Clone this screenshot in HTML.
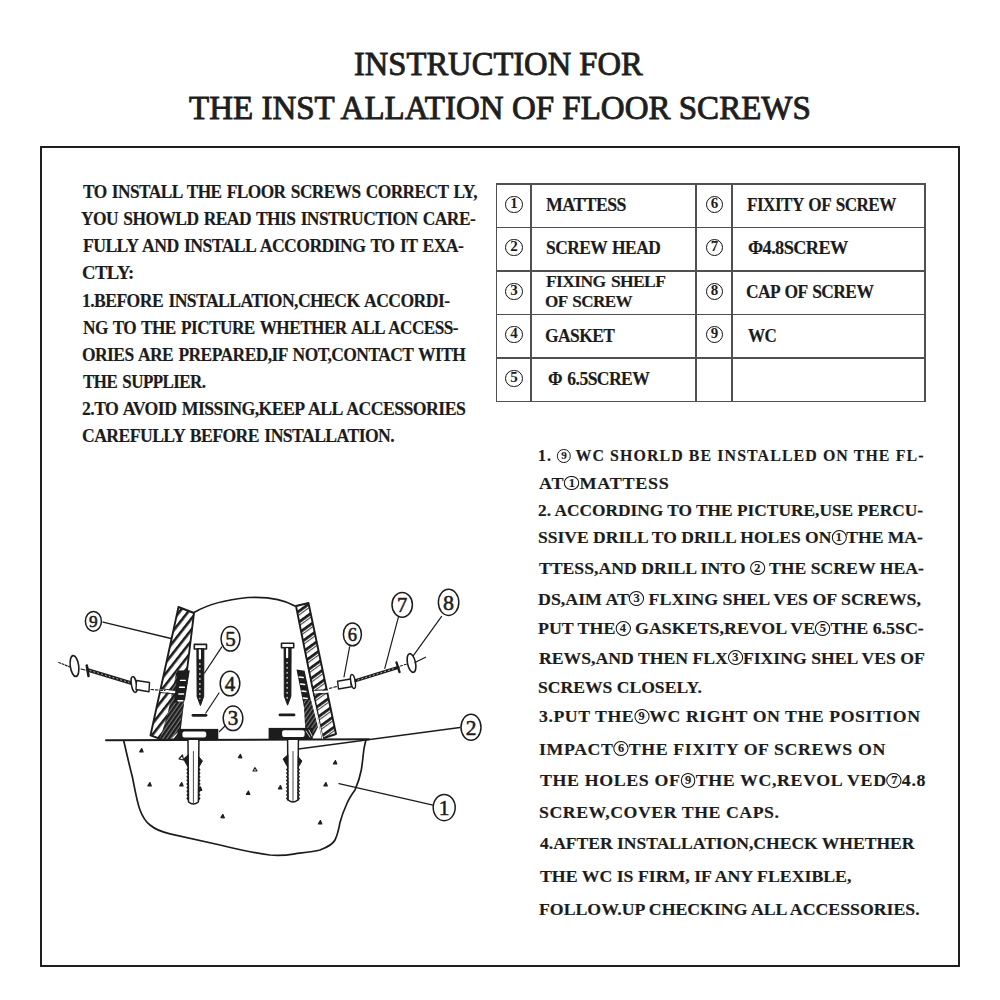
<!DOCTYPE html>
<html><head><meta charset="utf-8"><style>
html,body{margin:0;padding:0;background:#fff;}
body{width:1000px;height:1000px;position:relative;overflow:hidden;font-family:"Liberation Serif",serif;color:#1c1c1c;}
.ln{position:absolute;white-space:nowrap;line-height:1;transform-origin:0 0;}
.bd{-webkit-text-stroke:0.15px #1c1c1c;}
.tt{color:#1e1e1e;-webkit-text-stroke:0.9px #1e1e1e;}
.cd{display:inline-block;box-sizing:border-box;border:1.3px solid #111;border-radius:50%;text-align:center;font-weight:bold;letter-spacing:0;}
.cd.abs{position:absolute;}
.frame{position:absolute;left:40px;top:146px;width:916px;height:817px;border:2.2px solid #1e1e1e;}
.vl{position:absolute;width:1.5px;background:#505050;}
.hl{position:absolute;height:1.5px;background:#505050;}
svg{position:absolute;left:0;top:0;}
</style></head><body>
<div class="frame"></div>
<div class="vl" style="left:495.75px;top:183.2px;height:219.1px"></div>
<div class="vl" style="left:530.45px;top:183.2px;height:219.1px"></div>
<div class="vl" style="left:695.25px;top:183.2px;height:219.1px"></div>
<div class="vl" style="left:731.45px;top:183.2px;height:219.1px"></div>
<div class="vl" style="left:924.05px;top:183.2px;height:219.1px"></div>
<div class="hl" style="left:495.75px;top:183.25px;width:429.9px"></div>
<div class="hl" style="left:495.75px;top:226.65px;width:429.9px"></div>
<div class="hl" style="left:495.75px;top:270.25px;width:429.9px"></div>
<div class="hl" style="left:495.75px;top:313.75px;width:429.9px"></div>
<div class="hl" style="left:495.75px;top:357.25px;width:429.9px"></div>
<div class="hl" style="left:495.75px;top:400.75px;width:429.9px"></div>
<span class="cd abs" style="left:505.4px;top:195.6px;width:17.2px;height:17.2px;font-size:15px;line-height:13.8px;border-width:1.7px">1</span>
<span class="cd abs" style="left:705.8px;top:195.6px;width:17.2px;height:17.2px;font-size:15px;line-height:13.8px;border-width:1.7px">6</span>
<span class="cd abs" style="left:505.4px;top:239.1px;width:17.2px;height:17.2px;font-size:15px;line-height:13.8px;border-width:1.7px">2</span>
<span class="cd abs" style="left:705.8px;top:239.1px;width:17.2px;height:17.2px;font-size:15px;line-height:13.8px;border-width:1.7px">7</span>
<span class="cd abs" style="left:505.4px;top:282.6px;width:17.2px;height:17.2px;font-size:15px;line-height:13.8px;border-width:1.7px">3</span>
<span class="cd abs" style="left:705.8px;top:282.6px;width:17.2px;height:17.2px;font-size:15px;line-height:13.8px;border-width:1.7px">8</span>
<span class="cd abs" style="left:505.4px;top:326.1px;width:17.2px;height:17.2px;font-size:15px;line-height:13.8px;border-width:1.7px">4</span>
<span class="cd abs" style="left:705.8px;top:326.1px;width:17.2px;height:17.2px;font-size:15px;line-height:13.8px;border-width:1.7px">9</span>
<span class="cd abs" style="left:505.4px;top:369.6px;width:17.2px;height:17.2px;font-size:15px;line-height:13.8px;border-width:1.7px">5</span>
<div class="ln tt" id="t1" style="left:354.0px;top:47.93px;font-size:32.8px;font-weight:normal;letter-spacing:0px;word-spacing:0px;transform:scaleX(0.9933)">INSTRUCTION FOR</div>
<div class="ln tt" id="t2" style="left:189.0px;top:92.23px;font-size:32.8px;font-weight:normal;letter-spacing:0px;word-spacing:0px;transform:scaleX(1.0061)">THE INST ALLATION OF FLOOR SCREWS</div>
<div class="ln bd" id="l0" style="left:83.0px;top:183.01px;font-size:18.5px;font-weight:bold;letter-spacing:-0.6px;word-spacing:1.6px;transform:scaleX(0.9359)">TO INSTALL THE FLOOR SCREWS CORRECT LY,</div>
<div class="ln bd" id="l1" style="left:81.0px;top:210.14px;font-size:18.5px;font-weight:bold;letter-spacing:-0.6px;word-spacing:1.6px;transform:scaleX(0.9427)">YOU SHOWLD READ THIS INSTRUCTION CARE-</div>
<div class="ln bd" id="l2" style="left:83.0px;top:237.27px;font-size:18.5px;font-weight:bold;letter-spacing:-0.6px;word-spacing:1.6px;transform:scaleX(0.9548)">FULLY AND INSTALL ACCORDING TO IT EXA-</div>
<div class="ln bd" id="l3" style="left:82.0px;top:264.40px;font-size:18.5px;font-weight:bold;letter-spacing:-0.6px;word-spacing:1.6px;transform:scaleX(1.0097)">CTLY:</div>
<div class="ln bd" id="l4" style="left:82.0px;top:291.53px;font-size:18.5px;font-weight:bold;letter-spacing:-0.6px;word-spacing:1.6px;transform:scaleX(0.9522)">1.BEFORE INSTALLATION,CHECK ACCORDI-</div>
<div class="ln bd" id="l5" style="left:83.0px;top:318.66px;font-size:18.5px;font-weight:bold;letter-spacing:-0.6px;word-spacing:1.6px;transform:scaleX(0.9319)">NG TO THE PICTURE WHETHER ALL ACCESS-</div>
<div class="ln bd" id="l6" style="left:82.0px;top:345.79px;font-size:18.5px;font-weight:bold;letter-spacing:-0.6px;word-spacing:1.6px;transform:scaleX(0.9449)">ORIES ARE PREPARED,IF NOT,CONTACT WITH</div>
<div class="ln bd" id="l7" style="left:83.0px;top:372.92px;font-size:18.5px;font-weight:bold;letter-spacing:-0.6px;word-spacing:1.6px;transform:scaleX(0.9167)">THE SUPPLIER.</div>
<div class="ln bd" id="l8" style="left:82.0px;top:400.05px;font-size:18.5px;font-weight:bold;letter-spacing:-0.6px;word-spacing:1.6px;transform:scaleX(0.9596)">2.TO AVOID MISSING,KEEP ALL ACCESSORIES</div>
<div class="ln bd" id="l9" style="left:82.0px;top:427.18px;font-size:18.5px;font-weight:bold;letter-spacing:-0.6px;word-spacing:1.6px;transform:scaleX(0.9545)">CAREFULLY BEFORE INSTALLATION.</div>
<div class="ln bd" id="tb0" style="left:546.0px;top:195.71px;font-size:18.5px;font-weight:bold;letter-spacing:-0.6px;word-spacing:1.6px;transform:scaleX(0.9646)">MATTESS</div>
<div class="ln bd" id="tb1" style="left:546.0px;top:239.11px;font-size:18.5px;font-weight:bold;letter-spacing:-0.6px;word-spacing:1.6px;transform:scaleX(0.9424)">SCREW HEAD</div>
<div class="ln bd" id="tb2" style="left:546.0px;top:273.25px;font-size:17.5px;font-weight:bold;letter-spacing:-0.6px;word-spacing:1.6px;transform:scaleX(0.9990)">FIXING SHELF</div>
<div class="ln bd" id="tb3" style="left:545.0px;top:292.75px;font-size:17.5px;font-weight:bold;letter-spacing:-0.6px;word-spacing:1.6px;transform:scaleX(0.9776)">OF SCREW</div>
<div class="ln bd" id="tb4" style="left:545.0px;top:326.81px;font-size:18.5px;font-weight:bold;letter-spacing:-0.6px;word-spacing:1.6px;transform:scaleX(0.9432)">GASKET</div>
<div class="ln bd" id="tb5" style="left:548.0px;top:370.11px;font-size:18.5px;font-weight:bold;letter-spacing:-0.6px;word-spacing:1.6px;transform:scaleX(0.9509)">&Phi; 6.5SCREW</div>
<div class="ln bd" id="tb6" style="left:747.0px;top:196.01px;font-size:18.5px;font-weight:bold;letter-spacing:-0.6px;word-spacing:1.6px;transform:scaleX(0.9280)">FIXITY OF SCREW</div>
<div class="ln bd" id="tb7" style="left:748.0px;top:239.31px;font-size:18.5px;font-weight:bold;letter-spacing:-0.6px;word-spacing:1.6px;transform:scaleX(0.9889)">&Phi;4.8SCREW</div>
<div class="ln bd" id="tb8" style="left:746.0px;top:282.91px;font-size:18.5px;font-weight:bold;letter-spacing:-0.6px;word-spacing:1.6px;transform:scaleX(0.9422)">CAP OF SCREW</div>
<div class="ln bd" id="tb9" style="left:748.0px;top:326.51px;font-size:18.5px;font-weight:bold;letter-spacing:-0.6px;word-spacing:1.6px;transform:scaleX(0.9219)">WC</div>
<div class="ln bd" id="r0" style="left:538.0px;top:448.40px;font-size:16px;font-weight:bold;letter-spacing:1.1px;word-spacing:0px;transform:scaleX(0.9935)">1. <span class="cd" style="width:13.6px;height:13.6px;font-size:11.2px;line-height:10.90px;border-width:1.35px;vertical-align:2.3px">9</span> WC SHORLD BE INSTALLED ON THE FL-</div>
<div class="ln bd" id="r1" style="left:539.0px;top:474.85px;font-size:17.5px;font-weight:bold;letter-spacing:0.7px;word-spacing:0px;transform:scaleX(1.0323)">AT<span class="cd" style="width:14.9px;height:14.9px;font-size:12.2px;line-height:12.20px;border-width:1.35px;vertical-align:2.3px">1</span>MATTESS</div>
<div class="ln bd" id="r2" style="left:538.0px;top:502.35px;font-size:17.5px;font-weight:bold;letter-spacing:0px;word-spacing:0px;transform:scaleX(0.9910)">2. ACCORDING TO THE PICTURE,USE PERCU-</div>
<div class="ln bd" id="r3" style="left:538.0px;top:529.35px;font-size:17.5px;font-weight:bold;letter-spacing:0px;word-spacing:0px;transform:scaleX(1.0028)">SSIVE DRILL TO DRILL HOLES ON<span class="cd" style="width:14.9px;height:14.9px;font-size:12.2px;line-height:12.20px;border-width:1.35px;vertical-align:2.3px">1</span>THE MA-</div>
<div class="ln bd" id="r4" style="left:539.0px;top:559.85px;font-size:17.5px;font-weight:bold;letter-spacing:0px;word-spacing:0px;transform:scaleX(1.0100)">TTESS,AND DRILL INTO <span class="cd" style="width:14.9px;height:14.9px;font-size:12.2px;line-height:12.20px;border-width:1.35px;vertical-align:2.3px">2</span> THE SCREW HEA-</div>
<div class="ln bd" id="r5" style="left:538.0px;top:590.65px;font-size:17.5px;font-weight:bold;letter-spacing:0px;word-spacing:0px;transform:scaleX(1.0201)">DS,AIM AT<span class="cd" style="width:14.9px;height:14.9px;font-size:12.2px;line-height:12.20px;border-width:1.35px;vertical-align:2.3px">3</span> FLXING SHEL VES OF SCREWS,</div>
<div class="ln bd" id="r6" style="left:538.0px;top:620.15px;font-size:17.5px;font-weight:bold;letter-spacing:0px;word-spacing:0px;transform:scaleX(1.0217)">PUT THE<span class="cd" style="width:14.9px;height:14.9px;font-size:12.2px;line-height:12.20px;border-width:1.35px;vertical-align:2.3px">4</span> GASKETS,REVOL VE<span class="cd" style="width:14.9px;height:14.9px;font-size:12.2px;line-height:12.20px;border-width:1.35px;vertical-align:2.3px">5</span>THE 6.5SC-</div>
<div class="ln bd" id="r7" style="left:539.0px;top:649.65px;font-size:17.5px;font-weight:bold;letter-spacing:0px;word-spacing:0px;transform:scaleX(1.0106)">REWS,AND THEN FLX<span class="cd" style="width:14.9px;height:14.9px;font-size:12.2px;line-height:12.20px;border-width:1.35px;vertical-align:2.3px">3</span>FIXING SHEL VES OF</div>
<div class="ln bd" id="r8" style="left:538.0px;top:679.15px;font-size:17.5px;font-weight:bold;letter-spacing:0px;word-spacing:0px;transform:scaleX(1.0057)">SCREWS CLOSELY.</div>
<div class="ln bd" id="r9" style="left:539.0px;top:708.35px;font-size:17.5px;font-weight:bold;letter-spacing:0.55px;word-spacing:0px;transform:scaleX(1.0148)">3.PUT THE<span class="cd" style="width:14.9px;height:14.9px;font-size:12.2px;line-height:12.20px;border-width:1.35px;vertical-align:2.3px">9</span>WC RIGHT ON THE POSITION</div>
<div class="ln bd" id="r10" style="left:539.0px;top:740.55px;font-size:17.5px;font-weight:bold;letter-spacing:0.6px;word-spacing:0px;transform:scaleX(1.0176)">IMPACT<span class="cd" style="width:14.9px;height:14.9px;font-size:12.2px;line-height:12.20px;border-width:1.35px;vertical-align:2.3px">6</span>THE FIXITY OF SCREWS ON</div>
<div class="ln bd" id="r11" style="left:540.0px;top:772.25px;font-size:17.5px;font-weight:bold;letter-spacing:0.6px;word-spacing:0px;transform:scaleX(1.0212)">THE HOLES OF<span class="cd" style="width:14.9px;height:14.9px;font-size:12.2px;line-height:12.20px;border-width:1.35px;vertical-align:2.3px">9</span>THE WC,REVOL VED<span class="cd" style="width:14.9px;height:14.9px;font-size:12.2px;line-height:12.20px;border-width:1.35px;vertical-align:2.3px">7</span>4.8</div>
<div class="ln bd" id="r12" style="left:539.0px;top:804.35px;font-size:17.5px;font-weight:bold;letter-spacing:0.55px;word-spacing:0px;transform:scaleX(1.0142)">SCREW,COVER THE CAPS.</div>
<div class="ln bd" id="r13" style="left:540.0px;top:834.75px;font-size:17.5px;font-weight:bold;letter-spacing:0px;word-spacing:0px;transform:scaleX(1.0027)">4.AFTER INSTALLATION,CHECK WHETHER</div>
<div class="ln bd" id="r14" style="left:540.0px;top:868.15px;font-size:17.5px;font-weight:bold;letter-spacing:0px;word-spacing:0px;transform:scaleX(1.0155)">THE WC IS FIRM, IF ANY FLEXIBLE,</div>
<div class="ln bd" id="r15" style="left:539.0px;top:901.35px;font-size:17.5px;font-weight:bold;letter-spacing:0px;word-spacing:0px;transform:scaleX(1.0143)">FOLLOW.UP CHECKING ALL ACCESSORIES.</div>
<svg width="1000" height="1000" viewBox="0 0 1000 1000">
<defs>
<pattern id="hatL" patternUnits="userSpaceOnUse" width="6.8" height="6.8" patternTransform="rotate(-52)">
<rect width="6.8" height="6.8" fill="#fff"/><rect x="0" y="0" width="6.8" height="2.6" fill="#1c1c1c"/></pattern>
<pattern id="hatR" patternUnits="userSpaceOnUse" width="8.8" height="8.8" patternTransform="rotate(-36)">
<rect width="8.8" height="8.8" fill="#fff"/><rect x="0" y="0" width="8.8" height="2.8" fill="#1c1c1c"/><rect x="0" y="4" width="8.8" height="1" fill="#333"/></pattern>
<pattern id="hatD" patternUnits="userSpaceOnUse" width="3.4" height="3.4" patternTransform="rotate(-55)">
<rect width="3.4" height="3.4" fill="#777"/><rect x="0" y="0" width="3.4" height="2.2" fill="#1c1c1c"/></pattern>
</defs>
<g fill="none" stroke="#1c1c1c" stroke-linecap="round" stroke-linejoin="round">
<path d="M123.8,741 C127,755 130,768 132.5,777.5 C135,790 137,802 140,810 C143,818 146,822 150,825 C156,830 162,832 170,833.8 L220,845 C240,850 255,853 270,855 C280,856 288,855 295,853.8 C305,852.5 314,851.5 320,850 C328,847 333,844 335,840 C338,834 339,828 340,822.5 C342,815 344,810 346.3,805 C349,798 352,794 355,790 C358,783 360,777 361.3,770 C362.5,763 363,756 363.8,750 C364.5,746 365,743 366,740" stroke-width="1.7"/>
<path d="M106,740.3 L369,739.3" stroke-width="2"/>
<path d="M298.5,749 L460,727.5" stroke-width="1.3"/>
<path d="M339,783.6 L433,805.2" stroke-width="1.3"/>
<path d="M194,612.5 C205,606 222,600 248,597.5 C268,596.5 284,599.5 295,606" stroke-width="1.7"/>
<polygon points="178.5,607 194,613 180,728 177,739.5 162,739.5 150.5,735.3" fill="url(#hatL)" stroke-width="1.9"/>
<polygon points="176.5,671 189.6,670.5 179,731 171,739 160,739 168,712" fill="url(#hatD)" stroke="none"/>
<polygon points="177.5,670.5 189.6,670.5 185,700 174,703" fill="#1c1c1c" stroke="none"/>
<path d="M180.5,680.4 l4.8,0" stroke="#fff" stroke-width="1.4"/>
<path d="M179.6,687.2 l4.8,0" stroke="#fff" stroke-width="1.4"/>
<path d="M178.8,694 l4.8,0" stroke="#fff" stroke-width="1.4"/>
<path d="M178.0,700.8 l4.8,0" stroke="#fff" stroke-width="1.4"/>
<polygon points="296,606 308.5,603 336,734 322.6,738.5" fill="url(#hatR)" stroke-width="1.9"/>
<polygon points="296.5,669.4 304.6,670.8 316.5,727 309,727 307.3,723.4" fill="#1c1c1c" stroke="none"/>
<polygon points="303.5,700 311,700 318,727 312.5,738 306,738 305,725" fill="url(#hatD)" stroke="none"/>
<path d="M299.2,677 l4,0.6" stroke="#fff" stroke-width="1.5"/>
<path d="M300.6,684 l4,0.6" stroke="#fff" stroke-width="1.5"/>
<path d="M301.9,691 l4,0.6" stroke="#fff" stroke-width="1.5"/>
<path d="M303.2,698 l4,0.6" stroke="#fff" stroke-width="1.5"/>
<path d="M306.5,669 L322.6,738.5" stroke="#fff" stroke-width="1"/>
<rect x="177.8" y="728.9" width="40.5" height="10.5" fill="#1c1c1c" stroke="none"/>
<rect x="182.4" y="731.4" width="23.8" height="6" rx="2" fill="#fff" stroke="none"/>
<rect x="268.6" y="727.9" width="44" height="11.5" fill="#1c1c1c" stroke="none"/>
<rect x="282.1" y="730.2" width="22.5" height="6.7" rx="2" fill="#fff" stroke="none"/>
<path d="M306,731 l4,6 M309,730 l3,6" stroke="#fff" stroke-width="0.8"/>
<path d="M161,690.5 L174,692" stroke="#fff" stroke-width="2.6"/>
<path d="M161,688.8 L174,690.2 M161,692.6 L174,694" stroke-width="0.9"/>
<path d="M315,692 L327,691.5" stroke="#fff" stroke-width="2.4"/>
<path d="M315,690.3 L327.5,689.8 M315,694.2 L327,693.7" stroke-width="1"/>
<rect x="194.3" y="644.4" width="12.2" height="4.6" fill="#fff" stroke-width="1.6"/>
<path d="M196.9,649.0 L197.1,696.6 L200.4,705.6 L203.7,696.6 L203.9,649.0 Z" fill="#1c1c1c" stroke-width="1"/>
<path d="M199.9,650.4 L199.9,658.4" stroke="#fff" stroke-width="2.2"/>
<path d="M199.9,663.4 L199.9,698.6" stroke="#fff" stroke-width="1.1" stroke-dasharray="1 4"/>
<rect x="281.5" y="643.2" width="12.2" height="4.6" fill="#fff" stroke-width="1.6"/>
<path d="M284.1,647.8 L284.3,696.2 L287.6,705.2 L290.9,696.2 L291.1,647.8 Z" fill="#1c1c1c" stroke-width="1"/>
<path d="M287.1,649.2 L287.1,657.2" stroke="#fff" stroke-width="2.2"/>
<path d="M287.1,662.2 L287.1,698.2" stroke="#fff" stroke-width="1.1" stroke-dasharray="1 4"/>
<path d="M193,715.3 L206,715.3" stroke-width="2.8"/>
<path d="M280,714.9 L294,714.9" stroke-width="2.8"/>
<path d="M188.0,740 L188.5,802.0 Q193.4,806.0 198.4,802.0 L198.9,740" fill="#fff" stroke-width="1.5"/>
<path d="M193.4,751.5 L193.4,802.5" stroke-width="0.8"/>
<path d="M188.4,768 l-1.4,1.6 l1.4,1.6 M198.5,768 l1.4,1.6 l-1.4,1.6 M188.4,771.6 l-1.4,1.6 l1.4,1.6 M198.5,771.6 l1.4,1.6 l-1.4,1.6 M188.4,775.2 l-1.4,1.6 l1.4,1.6 M198.5,775.2 l1.4,1.6 l-1.4,1.6 M188.4,778.8000000000001 l-1.4,1.6 l1.4,1.6 M198.5,778.8000000000001 l1.4,1.6 l-1.4,1.6 M188.4,782.4000000000001 l-1.4,1.6 l1.4,1.6 M198.5,782.4000000000001 l1.4,1.6 l-1.4,1.6 M188.4,786.0000000000001 l-1.4,1.6 l1.4,1.6 M198.5,786.0000000000001 l1.4,1.6 l-1.4,1.6 M188.4,789.6000000000001 l-1.4,1.6 l1.4,1.6 M198.5,789.6000000000001 l1.4,1.6 l-1.4,1.6 M188.4,793.2000000000002 l-1.4,1.6 l1.4,1.6 M198.5,793.2000000000002 l1.4,1.6 l-1.4,1.6 M188.4,796.8000000000002 l-1.4,1.6 l1.4,1.6 M198.5,796.8000000000002 l1.4,1.6 l-1.4,1.6" stroke-width="1.2"/>
<path d="M188.0,755 L183.5,759 L188.0,767 Z M198.9,757 L202.4,761 L198.9,767 Z" fill="#1c1c1c" stroke-width="1"/>
<path d="M287.6,740 L288.1,800.0 Q293.0,804.0 297.9,800.0 L298.4,740" fill="#fff" stroke-width="1.5"/>
<path d="M293.0,751.5 L293.0,800.5" stroke-width="0.8"/>
<path d="M288.0,768 l-1.4,1.6 l1.4,1.6 M298.0,768 l1.4,1.6 l-1.4,1.6 M288.0,771.6 l-1.4,1.6 l1.4,1.6 M298.0,771.6 l1.4,1.6 l-1.4,1.6 M288.0,775.2 l-1.4,1.6 l1.4,1.6 M298.0,775.2 l1.4,1.6 l-1.4,1.6 M288.0,778.8000000000001 l-1.4,1.6 l1.4,1.6 M298.0,778.8000000000001 l1.4,1.6 l-1.4,1.6 M288.0,782.4000000000001 l-1.4,1.6 l1.4,1.6 M298.0,782.4000000000001 l1.4,1.6 l-1.4,1.6 M288.0,786.0000000000001 l-1.4,1.6 l1.4,1.6 M298.0,786.0000000000001 l1.4,1.6 l-1.4,1.6 M288.0,789.6000000000001 l-1.4,1.6 l1.4,1.6 M298.0,789.6000000000001 l1.4,1.6 l-1.4,1.6 M288.0,793.2000000000002 l-1.4,1.6 l1.4,1.6 M298.0,793.2000000000002 l1.4,1.6 l-1.4,1.6 M288.0,796.8000000000002 l-1.4,1.6 l1.4,1.6 M298.0,796.8000000000002 l1.4,1.6 l-1.4,1.6" stroke-width="1.2"/>
<path d="M287.6,755 L283.1,759 L287.6,767 Z M298.4,757 L301.9,761 L298.4,767 Z" fill="#1c1c1c" stroke-width="1"/>
<path d="M179,759 L182.5,755 L183.5,760 Z" fill="#fff" stroke-width="1.2"/>
<path d="M139.7,751.8 l2,-3.2 l1.4,3.4 z" fill="#1c1c1c" stroke-width="1.2"/>
<path d="M238.4,757.6 l2,-3.2 l1.4,3.4 z" fill="#1c1c1c" stroke-width="1.2"/>
<path d="M333.4,763.8 l2,-3.2 l1.4,3.4 z" fill="#1c1c1c" stroke-width="1.2"/>
<path d="M147.9,785.8 l2,-3.2 l1.4,3.4 z" fill="#1c1c1c" stroke-width="1.2"/>
<path d="M179.7,785.8 l2,-3.2 l1.4,3.4 z" fill="#1c1c1c" stroke-width="1.2"/>
<path d="M198.4,790.1 l2,-3.2 l1.4,3.4 z" fill="#1c1c1c" stroke-width="1.2"/>
<path d="M246.4,794.3 l2,-3.2 l1.4,3.4 z" fill="#1c1c1c" stroke-width="1.2"/>
<path d="M278.4,788.8 l2,-3.2 l1.4,3.4 z" fill="#1c1c1c" stroke-width="1.2"/>
<path d="M323.9,785.8 l2,-3.2 l1.4,3.4 z" fill="#1c1c1c" stroke-width="1.2"/>
<path d="M220.9,817.6 l2,-3.2 l1.4,3.4 z" fill="#1c1c1c" stroke-width="1.2"/>
<path d="M318.4,823.8 l2,-3.2 l1.4,3.4 z" fill="#1c1c1c" stroke-width="1.2"/>
<path d="M253,771 l2,-3.4 l2,3.4 z" fill="#fff" stroke-width="1.1"/>
<ellipse cx="93.4" cy="621.3" rx="8" ry="9.9" fill="#fff" stroke-width="1.5"/>
<text x="93.4" y="627.2" text-anchor="middle" font-family="Liberation Serif" font-size="17.4" fill="#1c1c1c" stroke="#1c1c1c" stroke-width="0.55">9</text>
<ellipse cx="230.5" cy="638.8" rx="9.5" ry="12.3" fill="#fff" stroke-width="1.5"/>
<text x="230.5" y="645.9" text-anchor="middle" font-family="Liberation Serif" font-size="21" fill="#1c1c1c" stroke="#1c1c1c" stroke-width="0.55">5</text>
<ellipse cx="230" cy="683.5" rx="9.8" ry="12.3" fill="#fff" stroke-width="1.5"/>
<text x="230" y="690.6" text-anchor="middle" font-family="Liberation Serif" font-size="21" fill="#1c1c1c" stroke="#1c1c1c" stroke-width="0.55">4</text>
<ellipse cx="233" cy="718.3" rx="9.8" ry="12.3" fill="#fff" stroke-width="1.5"/>
<text x="233" y="725.4" text-anchor="middle" font-family="Liberation Serif" font-size="21" fill="#1c1c1c" stroke="#1c1c1c" stroke-width="0.55">3</text>
<ellipse cx="352.4" cy="634.4" rx="9" ry="11.4" fill="#fff" stroke-width="1.5"/>
<text x="352.4" y="640.7" text-anchor="middle" font-family="Liberation Serif" font-size="18.5" fill="#1c1c1c" stroke="#1c1c1c" stroke-width="0.55">6</text>
<ellipse cx="402.2" cy="604.8" rx="10.2" ry="12.4" fill="#fff" stroke-width="1.5"/>
<text x="402.2" y="611.8" text-anchor="middle" font-family="Liberation Serif" font-size="20.5" fill="#1c1c1c" stroke="#1c1c1c" stroke-width="0.55">7</text>
<ellipse cx="448.6" cy="602.4" rx="10.2" ry="13.1" fill="#fff" stroke-width="1.5"/>
<text x="448.6" y="609.9" text-anchor="middle" font-family="Liberation Serif" font-size="22" fill="#1c1c1c" stroke="#1c1c1c" stroke-width="0.55">8</text>
<ellipse cx="471" cy="727.3" rx="10" ry="13" fill="#fff" stroke-width="1.5"/>
<text x="471" y="734.6" text-anchor="middle" font-family="Liberation Serif" font-size="21.5" fill="#1c1c1c" stroke="#1c1c1c" stroke-width="0.55">2</text>
<ellipse cx="444.2" cy="807.6" rx="11" ry="13.1" fill="#fff" stroke-width="1.5"/>
<text x="444.2" y="814.9" text-anchor="middle" font-family="Liberation Serif" font-size="21.5" fill="#1c1c1c" stroke="#1c1c1c" stroke-width="0.55">1</text>
<path d="M103,622.2 L171,638.5" stroke-width="1.3"/>
<path d="M221.8,646.8 L204.5,673" stroke-width="1.2"/>
<path d="M219,693 L205.8,713" stroke-width="1.2"/>
<path d="M225.5,725.5 L219.5,731.5" stroke-width="1.2"/>
<path d="M349.6,646.8 L344,677" stroke-width="1.2"/>
<path d="M398.4,617.2 L384.8,668.4" stroke-width="1.2"/>
<path d="M441.6,616.4 L412.8,656.4" stroke-width="1.2"/>
<path d="M329.6,688.4 L337,686.5" stroke-width="1.2" stroke-dasharray="2.5 2"/>
<path d="M337.5,681.2 L350.5,679 L351.5,686.8 L338.5,689 Z" fill="#fff" stroke-width="1.4"/>
<ellipse cx="353" cy="681.5" rx="2.2" ry="7" transform="rotate(-10 353 681.5)" fill="#fff" stroke-width="1.5"/>
<path d="M356,680.5 L398,667.5" stroke-width="3.4"/>
<path d="M358,680 L396,668" stroke="#fff" stroke-width="0.7" stroke-dasharray="1 3"/>
<path d="M396.5,662.5 L399.5,672" stroke-width="2.4"/>
<path d="M400.5,666 L407,664" stroke-width="1.1" stroke-dasharray="2 2"/>
<ellipse cx="411.5" cy="663" rx="4" ry="9.5" transform="rotate(-12 411.5 663)" fill="#fff" stroke-width="1.6"/>
<path d="M415,662.5 L425.5,657.2" stroke-width="1.2"/>
<ellipse cx="74.5" cy="666" rx="4.2" ry="10.5" transform="rotate(-8 74.5 666)" fill="#fff" stroke-width="1.6"/>
<path d="M58.8,662.5 L70,667" stroke-width="1.2" stroke-dasharray="2 1.5"/>
<path d="M88,670 L131,683" stroke-width="3.4"/>
<path d="M90,670.6 L129,682.4" stroke="#fff" stroke-width="0.7" stroke-dasharray="1 3"/>
<path d="M86.8,665.5 L88.5,676" stroke-width="2.6"/>
<path d="M81,669 L85,670" stroke-width="1.1"/>
<ellipse cx="134" cy="684.5" rx="2.6" ry="8" transform="rotate(-10 134 684.5)" fill="#fff" stroke-width="1.5"/>
<path d="M136.5,680.5 L149.5,682.5 L149,691.7 L136,689.5 Z" fill="#fff" stroke-width="1.4"/>
<path d="M151,689.5 L165,690.5" stroke-width="1.2" stroke-dasharray="2.5 2"/>
</g></svg>
</body></html>
